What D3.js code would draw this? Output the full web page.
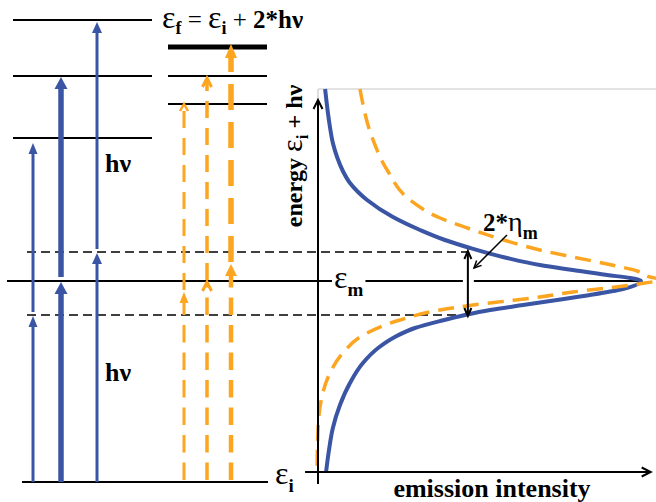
<!DOCTYPE html>
<html>
<head>
<meta charset="utf-8">
<script src="https://cdn.jsdelivr.net/npm/d3@7"></script>
<style>
  body { margin: 0; background: #fff; }
  svg { display: block; }
  text { font-family: "Liberation Serif", "Times New Roman", serif; fill: #000; }
</style>
</head>
<body>
<svg id="chart" width="656" height="502"></svg>
<script>
// ---- energies (arbitrary units above the initial state ε_i) ----
const groundLevel = 0;
const leftLevels = [3.44, 4.06, 4.62];          // one-colour two-photon final states
const rightLevels = [3.78, 4.06, 4.35];         // final states reached by the orange pairs
const meanLevel = 2.01;                          // ε_m
const halfWidthLevels = [2.30, 1.67];            // ε_m ± η_m

// two-step excitations: [start energy, end energy]
const blueLower = [[0, 1.66], [0, 2.00], [0, 2.29]];
const blueUpper = [[1.70, 3.39], [2.05, 4.05], [2.33, 4.60]];
const orangeLower = [[0, 1.90], [0, 2.00], [0, 2.18]];
const orangeUpper = [[1.92, 3.78], [2.02, 4.04], [2.20, 4.38]];

// emission spectra: energy vs. normalised intensity
const blueEnergy = [3.93, 3.55, 3.39, 3.25, 3.11, 2.99, 2.90, 2.82, 2.65, 2.52, 2.42, 2.34, 2.24, 2.17, 2.12, 2.07, 2.04, 2.01,
                    1.93, 1.87, 1.82, 1.77, 1.72, 1.67, 1.61, 1.54, 1.45, 1.34, 1.19, 0.99, 0.77, 0.54, 0.32, 0.10];
const blueIntensity = [0.022, 0.037, 0.046, 0.059, 0.077, 0.099, 0.124, 0.152, 0.232, 0.316, 0.393, 0.471, 0.585, 0.687, 0.789, 0.895, 0.966, 1.0,
                       0.944, 0.842, 0.740, 0.635, 0.533, 0.455, 0.378, 0.300, 0.238, 0.186, 0.139, 0.099, 0.068, 0.046, 0.034, 0.025];
const orangeEnergy = [3.93, 3.45, 3.12, 2.82, 2.64, 2.52, 2.41, 2.32, 2.25, 2.18, 2.11, 2.05, 2.02,
                      1.99, 1.94, 1.90, 1.85, 1.81, 1.77, 1.72, 1.62, 1.49, 1.29, 1.09, 0.85, 0.52, 0.10];
const orangeIntensity = [0.130, 0.167, 0.214, 0.285, 0.378, 0.480, 0.585, 0.687, 0.789, 0.895, 0.988, 1.028, 1.065,
                         1.012, 0.895, 0.789, 0.687, 0.585, 0.480, 0.378, 0.254, 0.152, 0.077, 0.037, 0.012, 0.0, -0.003];

const halfMaxIntensity = 0.464;                 // where the 2*η_m bracket sits
const etaPointer = [[0.585, 2.47], [0.483, 2.14]];

// ---- scales ----
const y = d3.scaleLinear().domain([0, 4.62]).range([482, 20]);
const x = d3.scaleLinear().domain([0, 1]).range([318, 641]);

const BLUE = "#3b55a5";
const ORANGE = "#fba520";
const svg = d3.select("#chart");

// ---- helpers ----
function hline(g, x0, x1, e, w, dash) {
  g.append("line").attr("x1", x0).attr("x2", x1).attr("y1", y(e)).attr("y2", y(e))
    .attr("stroke", "#000").attr("stroke-width", w)
    .attr("stroke-dasharray", dash || null);
}
function head(g, cx, tipY, w, l, color, kind, sw) {
  if (kind === "open") {
    g.append("polyline")
      .attr("points", `${cx - w / 2},${tipY + l} ${cx},${tipY} ${cx + w / 2},${tipY + l}`)
      .attr("fill", "none").attr("stroke", color).attr("stroke-width", sw || 2.5)
      .attr("stroke-linejoin", "miter");
  } else {
    g.append("polygon")
      .attr("points", `${cx},${tipY} ${cx - w / 2},${tipY + l} ${cx + w / 2},${tipY + l}`)
      .attr("fill", color);
  }
}
function arrow(g, cx, step, o) {
  const y0 = y(step[0]), tip = y(step[1]);
  g.append("line").attr("x1", cx).attr("x2", cx)
    .attr("y1", y0).attr("y2", tip + o.hl * (o.kind === "open" ? 0.3 : 0.8))
    .attr("stroke", o.color).attr("stroke-width", o.w)
    .attr("stroke-dasharray", o.dash || null);
  head(g, cx, tip, o.hw, o.hl, o.color, o.kind, o.hsw);
}

// ---- energy level diagram ----
const diag = svg.append("g");
leftLevels.forEach(e => hline(diag, 13, 152, e, 2));
rightLevels.forEach((e, i) => hline(diag, 168, 267, e, i === 2 ? 5 : 2));
hline(diag, 22, 268, groundLevel, 2);
halfWidthLevels.forEach(e => hline(diag, 27, x(halfMaxIntensity), e, 1.5, "9,5"));

// ε_m line, broken around its label and the width bracket
const emLabel = svg.append("text").attr("x", 334).attr("y", y(meanLevel) + 7);
emLabel.append("tspan").attr("font-size", 32).text("ε");
emLabel.append("tspan").attr("font-size", 19).attr("font-weight", "bold").attr("dy", 8).text("m");
const eb = emLabel.node().getBBox();
hline(diag, 7, eb.x - 2, meanLevel, 2);
hline(diag, eb.x + eb.width + 2, x(halfMaxIntensity) - 5, meanLevel, 2);
hline(diag, x(halfMaxIntensity) + 6, x(1), meanLevel, 2);

// blue: single-colour photon pairs
const blueX = [33, 61, 97];
const blueW = [3, 5.5, 3];
const blueHead = [[9, 11], [13, 12], [10, 11]];
blueLower.forEach((s, i) => arrow(diag, blueX[i], s, {color: BLUE, w: blueW[i], hw: blueHead[i][0], hl: blueHead[i][1]}));
blueUpper.forEach((s, i) => arrow(diag, blueX[i], s, {color: BLUE, w: blueW[i], hw: blueHead[i][0], hl: blueHead[i][1]}));

// orange: dashed photon pairs
const orangeX = [184, 207, 231];
const orangeLowerStyle = [
  {w: 3, hw: 9, hl: 11, kind: "fill"},
  {w: 3.5, hw: 9, hl: 9, kind: "open", hsw: 3},
  {w: 4.5, hw: 12, hl: 12, kind: "fill"}
];
const orangeUpperStyle = [
  {w: 3, hw: 8, hl: 7, kind: "open", hsw: 2.5, dash: "17,10"},
  {w: 3.5, hw: 9, hl: 9, kind: "open", hsw: 3, dash: "17,10"},
  {w: 5.5, hw: 12, hl: 14, kind: "fill", dash: "26,12"}
];
orangeLower.forEach((s, i) => arrow(diag, orangeX[i], [s[0] + 0.02, s[1]],
  Object.assign({color: ORANGE, dash: "17.5,10"}, orangeLowerStyle[i])));
orangeUpper.forEach((s, i) => arrow(diag, orangeX[i], s,
  Object.assign({color: ORANGE}, orangeUpperStyle[i])));

// ---- emission spectra ----
const plot = svg.append("g");
plot.append("line").attr("x1", x(0)).attr("x2", 656).attr("y1", y(3.93)).attr("y2", y(3.93))
  .attr("stroke", "#c8c8c8").attr("stroke-width", 1.2);
plot.append("line").attr("x1", x(0)).attr("x2", x(0)).attr("y1", y(3.93)).attr("y2", y(0.10))
  .attr("stroke", "#c8c8c8").attr("stroke-width", 1.2);

const line = d3.line().x(d => x(d[1])).y(d => y(d[0])).curve(d3.curveMonotoneY);
plot.append("path").datum(d3.zip(blueEnergy, blueIntensity))
  .attr("d", line).attr("fill", "none").attr("stroke", BLUE).attr("stroke-width", 4);
plot.append("path").datum(d3.zip(orangeEnergy, orangeIntensity))
  .attr("d", line).attr("fill", "none").attr("stroke", ORANGE).attr("stroke-width", 3.5)
  .attr("stroke-dasharray", "16,9");

// axes
plot.append("line").attr("x1", x(0)).attr("x2", x(0)).attr("y1", y(-0.02)).attr("y2", y(3.82) + 1)
  .attr("stroke", "#000").attr("stroke-width", 2);
head(plot, x(0), y(3.82), 9, 9, "#000", "open", 2);
plot.append("line").attr("x1", x(-0.04)).attr("x2", x(1.03) - 1).attr("y1", y(0.10)).attr("y2", y(0.10))
  .attr("stroke", "#000").attr("stroke-width", 2);
plot.append("polyline")
  .attr("points", `${x(1.03) - 9},${y(0.10) - 4.5} ${x(1.03)},${y(0.10)} ${x(1.03) - 9},${y(0.10) + 4.5}`)
  .attr("fill", "none").attr("stroke", "#000").attr("stroke-width", 2);

// 2*η_m bracket
const bx = x(halfMaxIntensity);
plot.append("line").attr("x1", bx).attr("x2", bx)
  .attr("y1", y(halfWidthLevels[0]) + 2).attr("y2", y(halfWidthLevels[1]) - 2)
  .attr("stroke", "#000").attr("stroke-width", 2);
head(plot, bx, y(halfWidthLevels[0]) - 1, 7, 8, "#000", "open", 2);
plot.append("polyline")
  .attr("points", `${bx - 3.5},${y(halfWidthLevels[1]) - 7} ${bx},${y(halfWidthLevels[1]) + 1} ${bx + 3.5},${y(halfWidthLevels[1]) - 7}`)
  .attr("fill", "none").attr("stroke", "#000").attr("stroke-width", 2);

// pointer to the bracket
const p0 = [x(etaPointer[0][0]), y(etaPointer[0][1])], p1 = [x(etaPointer[1][0]), y(etaPointer[1][1])];
plot.append("line").attr("x1", p0[0]).attr("y1", p0[1]).attr("x2", p1[0]).attr("y2", p1[1])
  .attr("stroke", "#000").attr("stroke-width", 1.5);
{
  const ang = Math.atan2(p0[1] - p1[1], p0[0] - p1[0]);
  const L = 8, A = 0.45;
  const a1 = [p1[0] + L * Math.cos(ang + A), p1[1] + L * Math.sin(ang + A)];
  const a2 = [p1[0] + L * Math.cos(ang - A), p1[1] + L * Math.sin(ang - A)];
  plot.append("polyline").attr("points", `${a1} ${p1} ${a2}`)
    .attr("fill", "none").attr("stroke", "#000").attr("stroke-width", 1.5);
}

// ---- text ----
const title = svg.append("text").attr("x", 162).attr("y", 28).attr("font-size", 25);
title.append("tspan").attr("font-size", 32).text("ε");
title.append("tspan").attr("font-size", 18).attr("font-weight", "bold").attr("dy", 6).text("f");
title.append("tspan").attr("dy", -6).text(" = ");
title.append("tspan").attr("font-size", 32).text("ε");
title.append("tspan").attr("font-size", 18).attr("font-weight", "bold").attr("dy", 6).text("i");
title.append("tspan").attr("dy", -6).text(" + ");
title.append("tspan").attr("font-weight", "bold").text("2*hν");

svg.append("text").attr("x", 105).attr("y", 172).attr("font-size", 26).attr("font-weight", "bold").text("hν");
svg.append("text").attr("x", 105).attr("y", 381).attr("font-size", 26).attr("font-weight", "bold").text("hν");

const ei = svg.append("text").attr("x", 275).attr("y", 484);
ei.append("tspan").attr("font-size", 32).text("ε");
ei.append("tspan").attr("font-size", 19).attr("font-weight", "bold").attr("dy", 8).text("i");

const eta = svg.append("text").attr("x", 483).attr("y", 231).attr("font-size", 25);
eta.append("tspan").attr("font-weight", "bold").text("2*");
eta.append("tspan").attr("font-size", 28).text("η");
eta.append("tspan").attr("font-size", 18).attr("font-weight", "bold").attr("dy", 8).text("m");

svg.append("text").attr("x", 492).attr("y", 497).attr("text-anchor", "middle")
  .attr("font-size", 26).attr("font-weight", "bold").text("emission intensity");

const yl = svg.append("text").attr("transform", "translate(302,156) rotate(-90)")
  .attr("text-anchor", "middle").attr("font-size", 24).attr("font-weight", "bold");
yl.append("tspan").text("energy ");
yl.append("tspan").attr("font-weight", "normal").attr("font-size", 30).text("ε");
yl.append("tspan").attr("font-size", 17).attr("dy", 6).text("i");
yl.append("tspan").attr("dy", -6).text(" + hν");
</script>
</body>
</html>
